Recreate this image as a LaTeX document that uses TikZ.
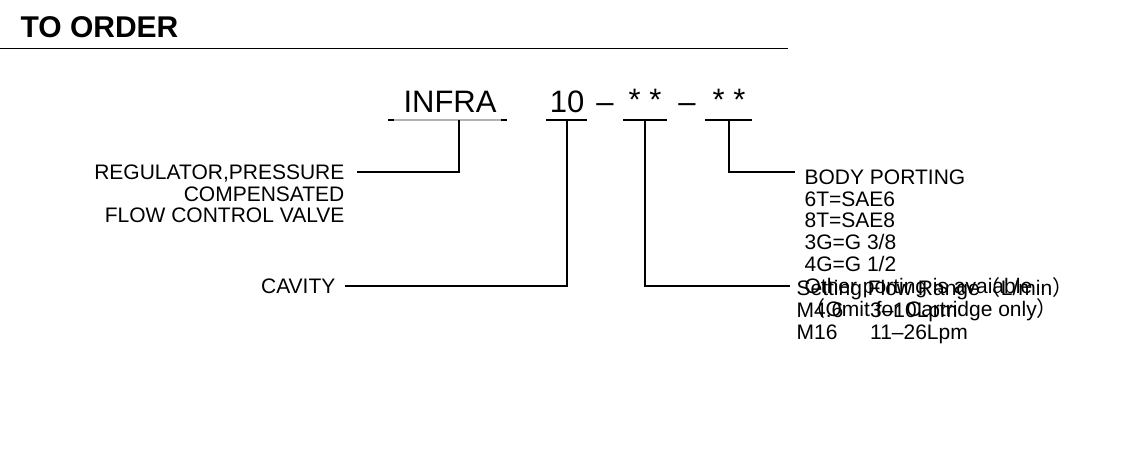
\documentclass[tikz,border=0pt]{standalone}
\usepackage{fontspec}
\setmainfont{Liberation Sans}
\newfontfamily\cjk{Noto Sans CJK SC}
\begin{document}
\begin{tikzpicture}[x=1pt,y=-1pt,line width=1.2pt,
  lbl/.style={font=\fontsize{21}{21.8}\selectfont,inner sep=0pt},
  code/.style={font=\fontsize{31}{31}\selectfont,inner sep=0pt,anchor=base}]
\useasboundingbox (0,0) rectangle (1124,450);
\node[anchor=base west,font=\bfseries\fontsize{30}{30}\selectfont,inner sep=0pt] (title) at (20,37) {TO ORDER};
\coordinate (tl) at (0,48); \coordinate (tr) at (788,48);
\draw[line width=1pt] (tl) -- (tr);
\node[code] (infra) at (450,112) {INFRA};
\node[code] (ten) at (567,112) {10};
\node[code] (d1) at (605,112) {--};
\node[code] (s1) at (645,110) {* *};
\node[code] (d2) at (687,112) {--};
\node[code] (s2) at (729,110) {* *};
\draw[gray!60] (388,120) -- (507,120);
\draw (388,120) -- (394,120) (501,120) -- (507,120);
\draw (546,120) -- (587,120);
\draw (623,120) -- (667,120);
\draw (705,120) -- (752,120);
\node[lbl,anchor=north east,align=right] (reg) at (345,164) {REGULATOR,PRESSURE\\COMPENSATED\\FLOW CONTROL VALVE};
\node[lbl,anchor=east] (cav) at (336,286) {CAVITY};
\node[lbl,anchor=north west,align=left] (body) at (804,169) {BODY PORTING\\6T=SAE6\\8T=SAE8\\3G=G 3/8\\4G=G 1/2\\Other porting is avaiable\\{\cjk（}Omit for Cartridge only{\cjk）}};
\node[lbl,anchor=north west,align=left] (flow) at (796,277) {Setting Flow Range{\cjk（}L/min{\cjk）}\\M4.6\quad\ 3--10Lpm\\M16\quad\ \ 11--26Lpm};
\coordinate (a) at (459,120); \coordinate (b) at (567,120);
\coordinate (c) at (645,120); \coordinate (d) at (729,120);
\draw (a) |- (357,172);
\draw (b) |- (345,286);
\draw (c) |- (790,286);
\draw (d) |- (795,172);
\end{tikzpicture}
\end{document}
